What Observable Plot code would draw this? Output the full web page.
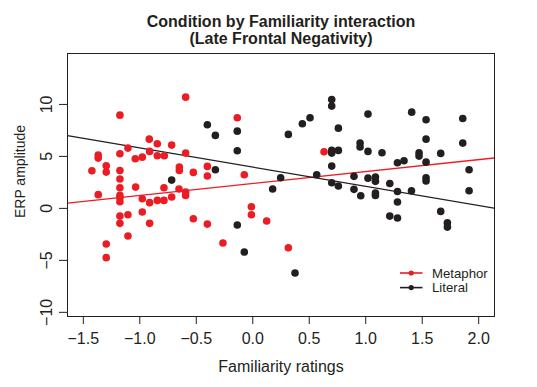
<!DOCTYPE html>
<html>
<head>
<meta charset="utf-8">
<script src="https://cdn.jsdelivr.net/npm/d3@7"></script>
<script src="https://cdn.jsdelivr.net/npm/@observablehq/plot@0.6"></script>
<style>
  html, body { margin: 0; padding: 0; background: #fff; }
  #wrap { position: relative; width: 537px; height: 387px; font-family: "Liberation Sans", Arial, sans-serif; }
  #legend { position: absolute; left: 0; top: 0; pointer-events: none; }
</style>
</head>
<body>
<div id="wrap"></div>
<script>
// ---- data ----
const titleText = "Condition by Familiarity interaction\n(Late Frontal Negativity)";
const xLabel = "Familiarity ratings";
const yLabel = "ERP amplitude";
const xTicks = [-1.5, -1.0, -0.5, 0.0, 0.5, 1.0, 1.5, 2.0];
const yTicks = [-10, -5, 0, 5, 10];
const xDomain = [-1.64, 2.14];
const yDomain = [-10.4, 14.9];
const conditions = ["Metaphor", "Literal"];
const colors = ["#ec1c24", "#231f20"];

const metaphorX = [-0.594,-1.176,-0.916,-0.845,-0.718,-1.105,-0.913,-1.176,-0.594,-1.368,-1.368,-1.04,-0.978,-0.845,-0.783,-1.297,-1.297,-1.424,-1.176,-1.176,-1.176,-1.176,-0.65,-0.65,-0.526,-0.402,-0.402,-1.037,-0.786,-0.653,-0.594,-0.594,-0.718,-1.368,-0.978,-0.845,-0.786,-1.176,-1.176,-0.913,-1.176,-1.105,-1.176,-0.978,-0.913,-0.526,-0.402,-1.105,-1.297,-1.297,-0.137,-0.075,0.631,-0.012,-0.012,0.123,-0.264,0.315];
const metaphorY = [10.7,8.97,6.66,6.22,6.09,5.8,5.48,5.26,5.32,5.13,4.84,4.78,4.93,5.07,5.07,4.1,3.49,3.62,3.65,2.82,1.99,1.25,3.97,3.65,3.46,4.04,3.11,2.05,1.99,1.86,1.57,1.25,1.09,1.32,0.93,0.77,0.77,1.03,0.64,0.55,-0.74,-0.61,-1.44,-0.35,-1.44,-0.99,-1.51,-2.66,-3.43,-4.74,8.72,3.24,5.45,0.16,-0.61,-1.22,-3.33,-3.78];

const literalX = [-0.402,-0.718,-0.331,-0.137,-0.137,-0.331,0.247,0.176,0.315,0.439,0.507,0.699,0.699,0.758,0.699,0.699,0.758,0.699,0.566,0.699,0.758,-0.137,-0.075,0.374,1.02,1.407,1.534,1.859,1.534,1.859,0.95,0.95,1.02,1.144,1.472,1.472,1.664,1.281,1.339,1.534,1.915,0.896,1.02,1.086,1.086,1.213,1.534,1.534,0.896,1.086,1.086,1.281,1.405,1.915,0.956,1.281,1.213,1.281,1.664,1.723,1.723];
const literalY = [8.05,2.72,7.02,7.43,5.55,3.72,2.95,1.86,7.12,8.14,8.72,10.48,9.84,7.72,5.58,5.32,5.58,4.07,3.24,2.47,2.15,-1.6,-4.2,-6.22,9.07,9.26,8.53,8.65,6.66,6.28,6.28,5.9,5.48,5.35,5.35,5.03,5.29,4.39,4.59,4.45,3.72,3.08,2.91,3.01,2.6,2.4,2.95,2.63,1.83,1.47,1.25,1.63,1.7,1.7,1.22,0.61,-0.74,-0.93,-0.29,-1.38,-1.8];

// fitted regression lines (intercept, slope) per condition
const fitIntercepts = [2.39, 3.97];
const fitSlopes = [1.15, -1.85];

// ---- build tables ----
const points = [
  ...metaphorX.map((x, i) => ({x, y: metaphorY[i], cond: conditions[0]})),
  ...literalX.map((x, i) => ({x, y: literalY[i], cond: conditions[1]}))
];
const fitLines = conditions.flatMap((c, k) =>
  xDomain.map(x => ({x, y: fitIntercepts[k] + fitSlopes[k] * x, cond: c})));
const colorOf = c => colors[conditions.indexOf(c)];

const ink = "#231f20";
const plot = Plot.plot({
  width: 537,
  height: 387,
  marginTop: 53,
  marginLeft: 67,
  marginRight: 43,
  marginBottom: 71,
  x: {domain: xDomain},
  y: {domain: yDomain},
  style: {fontFamily: '"Liberation Sans", Arial, sans-serif', color: ink, background: "#fff", overflow: "visible"},
  marks: [
    Plot.axisX({ticks: xTicks, tickSize: 8, tickPadding: 8, fontSize: 16, tickFormat: d3.format(".1f"), label: null}),
    Plot.axisY({ticks: yTicks, tickSize: 8, tickFormat: () => "", label: null}),
    Plot.text(yTicks, {y: d => d, text: d => d3.format("d")(d), frameAnchor: "left", dx: -15.5, rotate: -90,
      textAnchor: "middle", lineAnchor: "bottom", fontSize: 16, fill: ink}),
    Plot.text([xLabel], {frameAnchor: "bottom", lineAnchor: "bottom", dy: 55, fontSize: 16, fill: ink}),
    Plot.text([yLabel], {frameAnchor: "left", rotate: -90, dx: -43, dy: -13.5, lineAnchor: "bottom",
      textAnchor: "middle", fontSize: 14, fill: ink}),
    Plot.text([titleText], {frameAnchor: "top", lineAnchor: "bottom", dy: -9.7, lineHeight: 1.08,
      fontSize: 16, fontWeight: "bold", fill: ink}),
    Plot.line(fitLines, {x: "x", y: "y", z: "cond", stroke: d => colorOf(d.cond), strokeWidth: 1.3, clip: true}),
    Plot.dot(points, {x: "x", y: "y", r: 3.8, fill: d => colorOf(d.cond), stroke: "none"}),
    Plot.frame({stroke: ink, strokeWidth: 1})
  ]
});
const wrap = document.getElementById("wrap");
wrap.appendChild(plot);

// ---- legend overlay (bottom right, inside the plot box) ----
const rowGap = 14.6;
const legendRows = conditions.map((c, i) => ({label: c, color: colors[i], i}));
const lg = d3.select(wrap).append("svg").attr("id", "legend").attr("width", 537).attr("height", 387);
const row = lg.selectAll("g").data(legendRows).join("g")
  .attr("transform", d => `translate(400, ${273 + d.i * rowGap})`);
row.append("line").attr("x1", 0).attr("x2", 22.5).attr("y1", 0).attr("y2", 0)
  .attr("stroke", d => d.color).attr("stroke-width", 1.6);
row.append("circle").attr("cx", 11.2).attr("cy", 0).attr("r", 2.6).attr("fill", d => d.color);
row.append("text").attr("x", 32).attr("y", 4.8).attr("font-size", 13.2).attr("fill", ink)
  .attr("font-family", '"Liberation Sans", Arial, sans-serif').text(d => d.label);
</script>
</body>
</html>
